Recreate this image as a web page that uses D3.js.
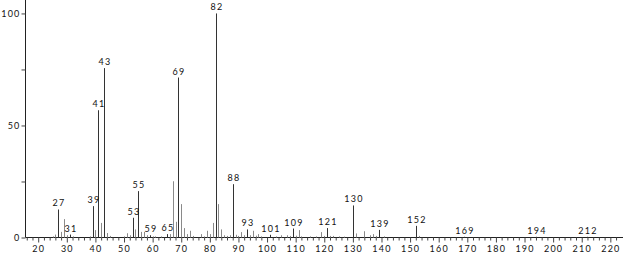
<!DOCTYPE html>
<html>
<head>
<meta charset="utf-8">
<script src="https://cdn.jsdelivr.net/npm/d3@7"></script>
<style>
  body { margin: 0; background: #fff; }
  text { font-family: Lato, "DejaVu Sans", sans-serif; font-size: 9px; fill: #111; letter-spacing: 1.2px; }
</style>
</head>
<body>
<script>
// m/z values and relative intensities
var mz = [25, 26, 27, 28, 29, 30, 31, 32, 38, 39, 40, 41, 42, 43, 44, 45,
          50, 51, 52, 53, 54, 55, 56, 57, 58, 59, 60, 61, 63, 65, 66, 67, 68, 69, 70,
          71, 72, 73, 74, 77, 78, 79, 80, 81, 82, 83, 84, 85, 86, 87, 88, 89, 90,
          91, 92, 93, 94, 95, 96, 97, 98, 101, 103, 105, 107, 108, 109, 110, 111,
          112, 115, 117, 119, 120, 121, 122, 123, 125, 127, 130, 131, 134, 136,
          137, 138, 139, 141, 152, 153, 169, 194, 212];
var intensity = [0.5, 1.3, 12.5, 2.5, 8.2, 1.0, 1.3, 0.5, 0.5, 14, 3.3, 56.8, 6.5, 75.6, 2.0, 0.7,
          0.5, 1.9, 1.0, 8.8, 3.6, 20.7, 2.5, 2.5, 1.0, 1.0, 0.5, 0.5, 0.5, 1.5, 1.5, 25.1, 7.0, 71.4, 14.9,
          4.2, 1.5, 3.0, 0.7, 1.5, 0.5, 3.0, 1.5, 6.5, 100, 14.9, 3.6, 1.0, 0.7, 1.0, 23.8, 1.2, 0.7,
          2.4, 1.0, 3.6, 1.0, 3.0, 0.8, 1.5, 0.5, 1.2, 0.5, 1.0, 1.0, 0.7, 4.0, 0.8, 3.3,
          0.5, 0.5, 0.5, 2.4, 0.7, 4.2, 0.7, 0.7, 0.5, 0.4, 14.3, 1.8, 2.8, 1.0,
          1.5, 0.7, 3.4, 0.5, 5.2, 0.7, 0.3, 0.3, 0.3];
var labeled = [27, 31, 39, 41, 43, 53, 55, 59, 65, 69, 82, 88, 93, 101, 109, 121, 130, 139, 152, 169, 194, 212];
var yTicks = [0, 25, 50, 75, 100];
var yLabels = [0, 50, 100];

var data = mz.map(function(m, i) { return {mz: m, v: intensity[i]}; });

var width = 623, height = 254;
var svg = d3.select("body").append("svg")
    .attr("width", width)
    .attr("height", height);

var x = d3.scaleLinear().domain([15.56, 224.6]).range([25.5, 623.5]);
var y = d3.scaleLinear().domain([0, 106]).range([237.5, 0]);

// eje x
var xAxis = d3.axisBottom(x)
    .tickValues(d3.range(16, 224, 2))
    .tickSize(3)
    .tickFormat(function(d) { return d % 10 === 0 ? d : ""; });

var gx = svg.append("g")
    .attr("transform", "translate(0," + y(0) + ")")
    .call(xAxis);
gx.select(".domain").attr("d", "M25.5,0H623").attr("stroke", "#222");
gx.selectAll(".tick line")
    .attr("stroke", "#444")
    .attr("y2", function(d) { return d % 10 === 0 ? 5 : 3; });
gx.selectAll(".tick text").attr("y", 8).attr("dy", "0.71em");

// eje y
var yAxis = d3.axisLeft(y)
    .tickValues(yTicks)
    .tickSize(4)
    .tickFormat(function(d) { return yLabels.indexOf(d) >= 0 ? d : ""; });

var gy = svg.append("g")
    .attr("transform", "translate(" + x(15.56) + ",0)")
    .call(yAxis);
gy.select(".domain").attr("d", "M0,0V237.5").attr("stroke", "#222");
gy.selectAll(".tick line").attr("stroke", "#444");
gy.selectAll(".tick text").attr("x", -5);
gx.selectAll("text").attr("font-family", null).attr("font-size", null);
gy.selectAll("text").attr("font-family", null).attr("font-size", null);

// picos
svg.selectAll(".peak")
  .data(data)
  .enter().append("line")
    .attr("class", "peak")
    .attr("x1", function(d) { return Math.round(x(d.mz)) + 0.5; })
    .attr("x2", function(d) { return Math.round(x(d.mz)) + 0.5; })
    .attr("y1", y(0))
    .attr("y2", function(d) { return y(d.v); })
    .attr("stroke", function(d) { return labeled.indexOf(d.mz) >= 0 ? "#333" : "#8a8a8a"; })
    .attr("stroke-width", 1);

// etiquetas de los picos
svg.selectAll(".plabel")
  .data(data.filter(function(d) { return labeled.indexOf(d.mz) >= 0; }))
  .enter().append("text")
    .attr("class", "plabel")
    .attr("x", function(d) { return Math.round(x(d.mz)) + 1; })
    .attr("y", function(d) { return y(d.v) - 3; })
    .attr("text-anchor", "middle")
    .text(function(d) { return d.mz; });
</script>
</body>
</html>
